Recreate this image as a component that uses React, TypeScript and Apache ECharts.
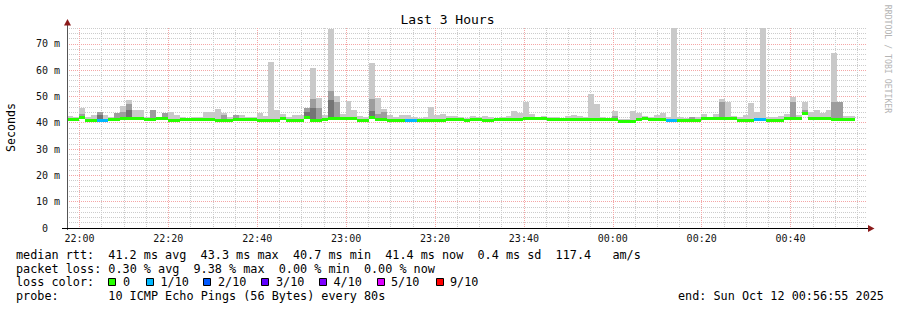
import React, { useEffect, useRef } from 'react';
import * as echarts from 'echarts';

// time axis: minutes relative to 22:00, bins of 80 s
const STEP_MIN = 80 / 60;
const START_MIN = -2.8;
const END_MIN = 177.2;

// median rtt per 80 s bin (ms)
const median = [
  41.3, 41.3, 42.0, 40.9, 40.9, 41.0, 41.0, 41.1, 41.4, 41.8,
  41.8, 41.5, 41.5, 41.2, 41.2, 41.5, 41.5, 40.9, 40.9, 41.2,
  41.2, 41.2, 41.2, 41.2, 41.2, 40.9, 40.9, 40.9, 41.2, 41.2,
  41.4, 41.4, 40.9, 41.0, 41.0, 41.0, 41.8, 41.0, 41.0, 41.0,
  42.0, 41.0, 41.0, 41.3, 41.6, 41.6, 41.6, 41.6, 41.6, 41.0,
  41.0, 42.0, 41.3, 41.3, 41.0, 41.0, 41.0, 41.0, 41.0, 40.9,
  40.9, 40.9, 40.9, 40.9, 41.1, 41.1, 41.1, 41.0, 41.1, 41.1,
  41.0, 41.0, 41.2, 41.2, 41.1, 41.1, 41.2, 41.7, 41.5, 41.5,
  41.5, 41.1, 41.1, 41.1, 41.1, 41.1, 41.1, 41.1, 41.1, 41.2,
  41.2, 41.2, 41.2, 40.5, 40.5, 40.5, 41.3, 41.7, 41.3, 41.3,
  41.3, 41.0, 41.0, 41.0, 41.0, 41.0, 41.0, 41.6, 41.6, 41.6,
  41.5, 41.5, 41.5, 41.0, 41.0, 41.0, 41.2, 41.2, 41.0, 41.0,
  41.0, 41.6, 41.6, 41.6, 43.5, 41.8, 41.8, 41.8, 41.8, 41.3,
  41.3, 41.3, 41.3,
];

// highest ping per bin (outer light smoke top, ms)
const smokeMax = [
  42.5, 42.2, 45.5, 42.3, 42.8, 44, 43, 42, 43.7, 46.4,
  48.7, 45, 45, 42.2, 44.8, 42.2, 43.6, 44, 43, 42,
  41.8, 42, 42, 44, 44, 45.3, 43.8, 42.3, 42.8, 42.8,
  42.3, 42, 43.6, 42.5, 63.1, 45, 43.3, 42, 43, 43,
  45.6, 60.9, 49.4, 43, 75.8, 50.2, 43.3, 48.3, 45, 42.5,
  42, 62.8, 49.4, 45.3, 43, 42, 43, 43, 42.2, 41.8,
  42, 46, 43, 43.3, 42.5, 42.5, 42, 41.8, 42.5, 42,
  42.6, 42, 41.8, 42, 42.6, 44.5, 43.6, 47.7, 43.3, 42,
  42.7, 42.2, 42, 41.8, 42.5, 43, 42.5, 42, 51, 47.2,
  42, 41.8, 44.5, 41.6, 41.6, 44.5, 43.8, 42.5, 42, 43,
  43.8, 42, 76, 42, 41.8, 42.2, 42, 43.3, 42.3, 43.3,
  49, 48, 42.5, 42, 42.8, 47.6, 44, 76, 42, 42,
  42.5, 43.3, 49.8, 42.8, 48, 44, 45, 43.8, 45, 66.6,
  48, 42.5, 42.5,
];

// [bin, top] of the middle smoke shade
const smokeMid = [
  [2, 43.5], [5, 44], [8, 43.7], [9, 44], [10, 47], [14, 44.8], [16, 43.6],
  [26, 43], [28, 42.8], [40, 45.6], [41, 49], [42, 45.6], [44, 52], [45, 48],
  [51, 49], [52, 43.3], [53, 44], [92, 42.5], [105, 42], [110, 48], [122, 48],
  [124, 45], [129, 48], [130, 48],
];

// [bin, top] of the darkest smoke shade
const smokeDark = [
  [5, 43], [10, 45], [40, 44], [41, 45.6], [44, 48.7], [51, 44.5], [124, 44.2],
];

// bins with 1/10 packet loss
const lossBins = [5, 6, 57, 58, 101, 102, 116, 117];

const lossColors = ['#26ff00', '#00b8ff', '#0059ff', '#5e00ff', '#7e00ff', '#dd00ff', '#ff0000'];
const lossLabels = ['0', '1/10', '2/10', '3/10', '4/10', '5/10', '9/10'];

const legendLine1 = 'median rtt:  41.2 ms avg  43.3 ms max  40.7 ms min  41.4 ms now  0.4 ms sd  117.4   am/s';
const legendLine2 = 'packet loss: 0.30 % avg  9.38 % max  0.00 % min  0.00 % now';
const legendLine3 = 'loss color:';
const legendLine4 = 'probe:       10 ICMP Echo Pings (56 Bytes) every 80s';
const endText = 'end: Sun Oct 12 00:56:55 2025';
const titleText = 'Last 3 Hours';
const sideText = 'RRDTOOL / TOBI OETIKER';
const yName = 'Seconds';

const MONO = '"DejaVu Sans Mono", monospace';
const SMOKE = ['#c9c9c9', '#9d9d9d', '#747474'];

function lossColor(n: number) {
  if (n <= 0) return lossColors[0];
  if (n <= 4) return lossColors[n];
  if (n <= 8) return lossColors[5];
  return lossColors[6];
}

function tokens(line: string) {
  const out: { col: number; text: string }[] = [];
  const re = /\S+(?: \S+)*/g;
  let m: RegExpExecArray | null;
  while ((m = re.exec(line))) out.push({ col: m.index, text: m[0] });
  return out;
}

function fmtTime(v: number) {
  const total = 22 * 60 + v;
  const h = Math.floor(total / 60) % 24;
  const mm = Math.round(total % 60);
  return String(h).padStart(2, '0') + ':' + String(mm).padStart(2, '0');
}

export default function App() {
  const ref = useRef<HTMLDivElement>(null);

  useEffect(() => {
    if (!ref.current) return;
    const chart = echarts.init(ref.current, undefined, { renderer: 'svg' });

    const midMap: Record<number, number> = {};
    smokeMid.forEach(([i, v]) => (midMap[i] = v));
    const darkMap: Record<number, number> = {};
    smokeDark.forEach(([i, v]) => (darkMap[i] = v));
    const lossMap: Record<number, number> = {};
    lossBins.forEach((i) => (lossMap[i] = 1));

    const data = median.map((m, i) => [
      START_MIN + i * STEP_MIN,
      m,
      smokeMax[i],
      midMap[i] ?? 0,
      darkMap[i] ?? 0,
      lossMap[i] ?? 0,
    ]);

    const CW = 7.1;
    const FS = 11.8;
    const LX = 16;
    const textEl = (text: string, x: number, y: number, extra: any = {}) => ({
      type: 'text',
      x,
      y,
      silent: true,
      style: {
        text,
        fill: '#000',
        fontFamily: MONO,
        fontSize: FS,
        align: 'left',
        verticalAlign: 'middle',
        textAlign: 'left',
        textVerticalAlign: 'middle',
        ...extra,
      },
    });

    const graphics: any[] = [];
    const lineYs = [254.5, 268.5, 282, 295.8];
    [legendLine1, legendLine2, legendLine3, legendLine4].forEach((ln, k) => {
      tokens(ln).forEach((t) => graphics.push(textEl(t.text, LX + t.col * CW, lineYs[k])));
    });
    const boxX = [108, 146, 203, 261, 319, 377, 436];
    const labX = [123, 160.5, 218, 276, 333.5, 391, 450];
    lossColors.forEach((c, k) => {
      graphics.push({
        type: 'rect',
        silent: true,
        shape: { x: boxX[k] + 0.5, y: 278.5, width: 7, height: 7 },
        style: { fill: c, stroke: '#000', lineWidth: 1 },
      });
      graphics.push(textEl(lossLabels[k], labX[k], lineYs[2]));
    });
    graphics.push(textEl(endText, 678, lineYs[3]));
    graphics.push(
      textEl(titleText, 447.5, 19.5, { fontSize: 13, align: 'center', textAlign: 'center' })
    );
    graphics.push({
      type: 'text',
      x: 888,
      y: 59,
      rotation: -Math.PI / 2,
      silent: true,
      style: {
        text: sideText,
        fill: '#b4b4b4',
        fontFamily: MONO,
        fontSize: 8.2,
        align: 'center',
        verticalAlign: 'middle',
        textAlign: 'center',
        textVerticalAlign: 'middle',
      },
    });
    graphics.push({
      type: 'text',
      x: 10.5,
      y: 127.5,
      rotation: Math.PI / 2,
      silent: true,
      style: {
        text: yName,
        fill: '#000',
        fontFamily: MONO,
        fontSize: 11.6,
        align: 'center',
        verticalAlign: 'middle',
        textAlign: 'center',
        textVerticalAlign: 'middle',
      },
    });
    // axis lines and arrows
    graphics.push({
      type: 'line',
      silent: true,
      shape: { x1: 67.5, y1: 23, x2: 67.5, y2: 230 },
      style: { stroke: '#555', lineWidth: 1 },
      z: 10,
    });
    graphics.push({
      type: 'line',
      silent: true,
      shape: { x1: 62, y1: 228.5, x2: 869, y2: 228.5 },
      style: { stroke: '#000', lineWidth: 1 },
      z: 10,
    });
    graphics.push({
      type: 'polygon',
      silent: true,
      shape: { points: [[64, 25.5], [71, 25.5], [67.5, 19]] },
      style: { fill: '#8b1a1a' },
      z: 11,
    });
    graphics.push({
      type: 'polygon',
      silent: true,
      shape: { points: [[868, 225], [868, 232], [874.5, 228.5]] },
      style: { fill: '#8b1a1a' },
      z: 11,
    });

    const minorStyle = { color: '#cccccc', type: [1, 1] as any, width: 1 };
    const majorStyle = { color: '#f4a6a6', type: [1, 1] as any, width: 1 };

    chart.setOption({
      animation: false,
      backgroundColor: '#ffffff',
      grid: { left: 67, right: 30, top: 28, bottom: 82, containLabel: false },
      xAxis: [
        {
          type: 'value',
          min: START_MIN,
          max: END_MIN,
          splitNumber: 36,
          minInterval: 5,
          maxInterval: 5,
          position: 'bottom',
          axisLine: { show: false },
          axisTick: { show: false },
          axisLabel: { show: false },
          splitLine: { show: true, showMinLine: false, showMaxLine: false, lineStyle: minorStyle },
        },
        {
          type: 'value',
          min: START_MIN,
          max: END_MIN,
          splitNumber: 9,
          minInterval: 20,
          maxInterval: 20,
          position: 'bottom',
          axisLine: { show: false },
          axisTick: { show: false },
          axisLabel: {
            show: true,
            showMinLabel: false,
            showMaxLabel: false,
            margin: 5,
            fontFamily: MONO,
            fontSize: 10,
            color: '#111',
            formatter: (v: number) => (Math.abs(v % 20) < 1e-6 ? fmtTime(v) : ''),
          },
          splitLine: { show: true, showMinLine: false, showMaxLine: false, lineStyle: majorStyle },
        },
      ],
      yAxis: [
        {
          type: 'value',
          min: 0,
          max: 76,
          interval: 2,
          position: 'left',
          axisLine: { show: false },
          axisTick: { show: false },
          axisLabel: { show: false },
          splitLine: { show: true, showMinLine: false, showMaxLine: true, lineStyle: minorStyle },
        },
        {
          type: 'value',
          min: 0,
          max: 76,
          interval: 10,
          position: 'left',
          axisLine: { show: false },
          axisTick: { show: false },
          axisLabel: {
            show: true,
            showMaxLabel: false,
            margin: 7,
            fontFamily: MONO,
            fontSize: 10,
            color: '#111',
            formatter: (v: number) => (v === 0 ? '0{h| m}' : v % 10 === 0 && v < 76 ? `${v} m` : ''),
            rich: { h: { color: 'rgba(0,0,0,0)', fontFamily: MONO, fontSize: 10 } },
          },
          splitLine: { show: true, showMinLine: false, showMaxLine: false, lineStyle: majorStyle },
        },
      ],
      series: [
        {
          type: 'custom',
          xAxisIndex: 0,
          yAxisIndex: 0,
          clip: true,
          silent: true,
          encode: { x: 0, y: [1, 2] },
          data,
          renderItem: (params: any, api: any) => {
            const t = api.value(0) as number;
            const med = api.value(1) as number;
            const mx = api.value(2) as number;
            const mid = api.value(3) as number;
            const dk = api.value(4) as number;
            const loss = api.value(5) as number;
            const xa = Math.round(api.coord([t, 0])[0]);
            const xb = Math.round(api.coord([t + STEP_MIN, 0])[0]);
            const w = xb - xa;
            const yOf = (v: number) => api.coord([t, v])[1];
            const ym = yOf(med);
            const kids: any[] = [];
            const band = (top: number, fill: string) => {
              const yt = Math.round(yOf(top));
              const yb = Math.round(ym);
              if (yb > yt)
                kids.push({ type: 'rect', shape: { x: xa, y: yt, width: w, height: yb - yt }, style: { fill } });
            };
            band(mx, SMOKE[0]);
            if (mid > 0) band(mid, SMOKE[1]);
            if (dk > 0) band(dk, SMOKE[2]);
            kids.push({
              type: 'rect',
              shape: { x: xa, y: Math.round(ym - 1.5), width: w, height: 3 },
              style: { fill: lossColor(loss) },
            });
            return { type: 'group', children: kids };
          },
        },
      ],
      graphic: graphics,
    });

    return () => chart.dispose();
  }, []);

  return (
    <div
      ref={ref}
      style={{ position: 'fixed', left: 0, top: 0, width: 897, height: 310, background: '#fff' }}
    />
  );
}
